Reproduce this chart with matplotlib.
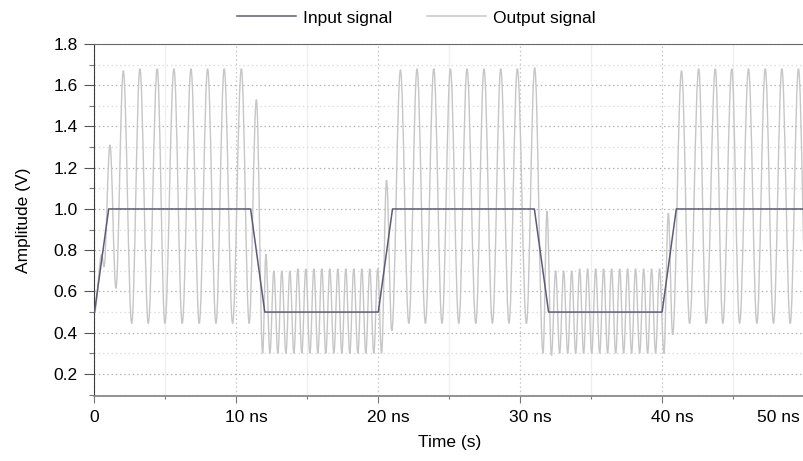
import matplotlib
matplotlib.use('Agg')
import matplotlib.pyplot as plt
from matplotlib.path import Path
from matplotlib.patches import PathPatch
from matplotlib.lines import Line2D
from matplotlib.ticker import MultipleLocator, FixedLocator
import matplotlib.transforms as mtransforms

plt.rcParams['font.family'] = ['Liberation Sans', 'DejaVu Sans']

# ---------------- data (time in ns, amplitude in V) ----------------
input_time = [0, 1, 11, 12, 20, 21, 31, 32, 40, 41, 50]
input_value = [0.5, 1.0, 1.0, 0.5, 0.5, 1.0, 1.0, 0.5, 0.5, 1.0, 1.0]

# Output signal: successive turning points (peaks / troughs)
out_time = [
    # first high phase
    0.00, 0.51, 0.67, 1.09, 1.51, 2.03, 2.62, 3.20, 3.79, 4.42, 4.96, 5.60,
    6.18, 6.80, 7.38, 7.97, 8.56, 9.14, 9.73, 10.35, 10.90, 11.41, 11.85,
    # first low phase
    12.08, 12.36, 12.64, 12.92, 13.20, 13.49, 13.77, 14.05, 14.33, 14.61,
    14.89, 15.18, 15.46, 15.74, 16.02, 16.30, 16.58, 16.87, 17.15, 17.43,
    17.71, 17.99, 18.27, 18.56, 18.84, 19.12, 19.40, 19.68, 19.96, 20.23,
    # second high phase
    20.58, 20.95, 21.56, 22.15, 22.73, 23.32, 23.91, 24.49, 25.08, 25.67,
    26.25, 26.87, 27.45, 28.04, 28.63, 29.21, 29.80, 30.44, 31.02, 31.61,
    # second low phase
    31.89, 32.20, 32.50, 32.78, 33.06, 33.35, 33.63, 33.91, 34.19, 34.47,
    34.75, 35.04, 35.32, 35.60, 35.88, 36.16, 36.44, 36.73, 37.01, 37.29,
    37.57, 37.85, 38.13, 38.42, 38.70, 38.98, 39.26, 39.54, 39.82, 40.13,
    # third high phase
    40.44, 40.74, 41.37, 41.94, 42.58, 43.11, 43.75, 44.28, 44.91, 45.46,
    46.09, 46.68, 47.27, 47.85, 48.44, 49.03, 49.61, 50.19,
]
out_value = [
    0.50, 0.78, 0.72, 1.31, 0.615, 1.67, 0.445, 1.68, 0.445, 1.68, 0.445, 1.68,
    0.445, 1.68, 0.445, 1.68, 0.445, 1.68, 0.445, 1.68, 0.445, 1.53, 0.30,
    0.78, 0.30, 0.70, 0.30, 0.70, 0.30, 0.70, 0.30, 0.71, 0.30,
    0.71, 0.30, 0.71, 0.30, 0.71, 0.30, 0.71, 0.30, 0.71, 0.30,
    0.71, 0.30, 0.71, 0.30, 0.71, 0.30, 0.71, 0.30, 0.71, 0.30,
    1.14, 0.41, 1.675, 0.445, 1.68, 0.445, 1.68, 0.445, 1.68, 0.445,
    1.68, 0.445, 1.68, 0.445, 1.68, 0.445, 1.68, 0.445, 1.685, 0.30,
    0.99, 0.29, 0.70, 0.30, 0.70, 0.30, 0.70, 0.30, 0.71, 0.30,
    0.71, 0.30, 0.71, 0.30, 0.71, 0.30, 0.71, 0.30, 0.71, 0.30,
    0.71, 0.30, 0.71, 0.30, 0.71, 0.30, 0.71, 0.30, 0.71, 0.30,
    0.98, 0.39, 1.67, 0.445, 1.68, 0.445, 1.68, 0.445, 1.68, 0.445,
    1.68, 0.445, 1.68, 0.445, 1.68, 0.445, 1.68, 0.445,
]

x_ticks = [0, 10, 20, 30, 40, 50]
x_tick_labels = ['0', '10 ns', '20 ns', '30 ns', '40 ns', '50 ns']
y_ticks = [0.2, 0.4, 0.6, 0.8, 1.0, 1.2, 1.4, 1.6, 1.8]
y_tick_labels = ['0.2', '0.4', '0.6', '0.8', '1.0', '1.2', '1.4', '1.6', '1.8']
series_names = ['Input signal', 'Output signal']

# ---------------- styling ----------------
input_color = '#5c5c78'
output_color = '#c6c6c6'

W, H = 804, 461
fig = plt.figure(figsize=(W / 100, H / 100), dpi=100)
ax = fig.add_axes([94.5 / W, 65 / H, (W - 94.5) / W, 352 / H])
ax.set_xlim(0, 50)
ax.set_ylim(0.093, 1.8)

# grid
ax.xaxis.set_major_locator(FixedLocator(x_ticks))
ax.xaxis.set_minor_locator(MultipleLocator(5))
ax.yaxis.set_major_locator(FixedLocator(y_ticks))
ax.yaxis.set_minor_locator(MultipleLocator(0.1))
ax.grid(which='major', axis='y', linestyle=(0, (1.2, 2.2)), color='#b4b4b4', lw=0.9)
ax.grid(which='minor', axis='y', linestyle=(0, (1.2, 2.2)), color='#dcdcdc', lw=0.9)
ax.grid(which='major', axis='x', linestyle=(0, (1.2, 2.2)), color='#c4c4c4', lw=0.9)
ax.grid(which='minor', axis='x', linestyle='-', color='#efefef', lw=0.9)
ax.set_axisbelow(True)

# output signal: smooth curve through the turning points (horizontal tangents)
k = 0.3642
verts = [(out_time[0], out_value[0])]
codes = [Path.MOVETO]
for i in range(1, len(out_time)):
    t0, v0 = out_time[i - 1], out_value[i - 1]
    t1, v1 = out_time[i], out_value[i]
    dt = t1 - t0
    verts += [(t0 + k * dt, v0), (t1 - k * dt, v1), (t1, v1)]
    codes += [Path.CURVE4] * 3
patch = PathPatch(Path(verts, codes), facecolor='none', edgecolor=output_color,
                  lw=1.0, transform=ax.transData, zorder=2)
ax.add_patch(patch)

ax.plot(input_time, input_value, color=input_color, lw=1.1, zorder=3)

# spines
ax.spines['right'].set_visible(False)
ax.spines['left'].set_color('#3c3c3c')
ax.spines['top'].set_color('#6a6a6a')
ax.spines['bottom'].set_color('#8a8a8a')
ax.spines['bottom'].set_linewidth(1.3)

ax.tick_params(axis='y', which='major', direction='out', length=7.2, width=0.8,
               color='#555555', pad=5, labelsize=12.5)
ax.tick_params(axis='y', which='minor', direction='out', length=3.6, width=0.8,
               color='#777777')
ax.tick_params(axis='x', which='major', direction='out', length=5, width=0.8,
               color='#777777', pad=5, labelsize=12.5)
ax.tick_params(axis='x', which='minor', direction='out', length=2.5, width=0.8,
               color='#777777')
ax.set_yticklabels(y_tick_labels)
ax.set_xticklabels(x_tick_labels)

# centre the number (not the unit) on each tick
for lab in ax.get_xticklabels():
    txt = lab.get_text()
    if txt.endswith('ns'):
        if txt.startswith('50'):
            lab.set_horizontalalignment('right')
            lab.set_transform(lab.get_transform() + mtransforms.ScaledTranslation(
                -3 / 72, 0, fig.dpi_scale_trans))
        else:
            lab.set_transform(lab.get_transform() + mtransforms.ScaledTranslation(
                7 / 72, 0, fig.dpi_scale_trans))

ax.set_xlabel('Time (s)', fontsize=12.5, labelpad=7)
ax.set_ylabel('Amplitude (V)', fontsize=12.5, labelpad=16)

handles = [Line2D([], [], color=input_color, lw=1.1),
           Line2D([], [], color=output_color, lw=1.1)]
fig.legend(handles, series_names, loc='center', bbox_to_anchor=(416 / W, 1 - 18 / H),
           ncol=2, frameon=False, fontsize=12.5, handlelength=3.4,
           handletextpad=0.4, columnspacing=2.0)

fig.savefig('out.png', dpi=100)
